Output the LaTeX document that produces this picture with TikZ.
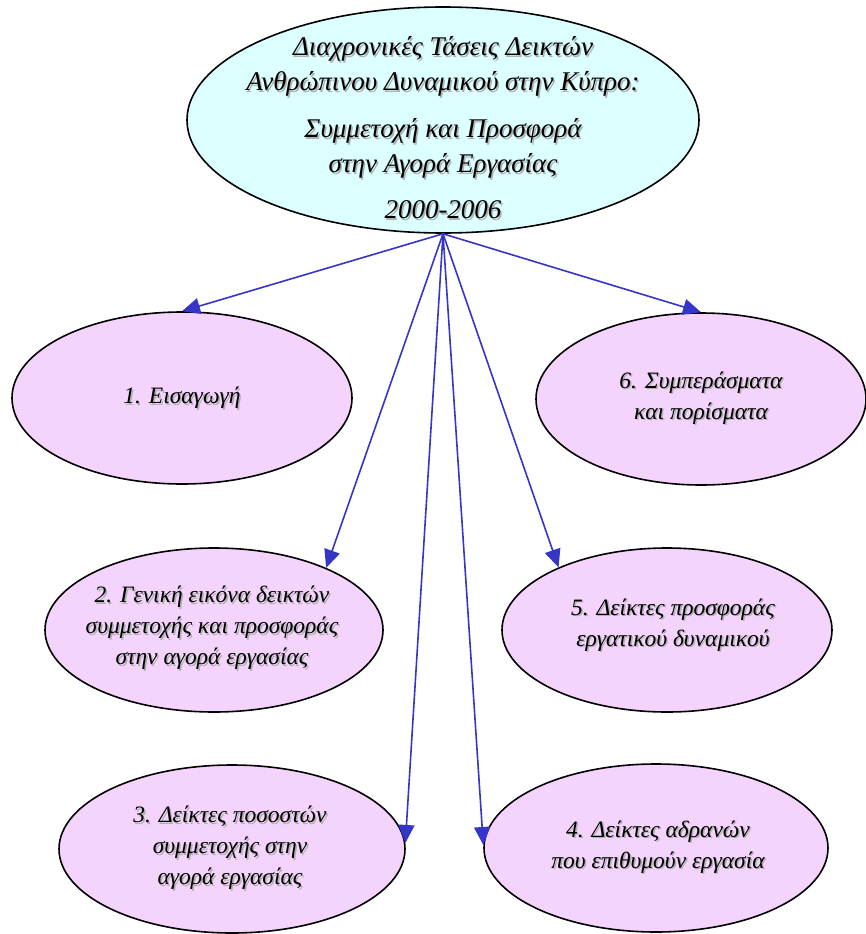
\documentclass[tikz,border=0pt]{standalone}
\usepackage{fontspec}
\setmainfont{Liberation Serif}
\usetikzlibrary{shapes.geometric,arrows.meta}
\definecolor{topfill}{HTML}{DCFFFF}
\definecolor{subfill}{HTML}{F4D4FC}
\definecolor{arrowblue}{HTML}{3535C8}
\definecolor{shadowgray}{HTML}{B0B0B0}
\newcommand\toptxt{Διαχρονικές Τάσεις Δεικτών\\Ανθρώπινου Δυναμικού στην Κύπρο:\\[12pt]Συμμετοχή και Προσφορά\\στην Αγορά Εργασίας\\[11pt]2000-2006}
\newcommand\txtone{1. Εισαγωγή}
\newcommand\txttwo{2. Γενική εικόνα δεικτών\\συμμετοχής και προσφοράς\\στην αγορά εργασίας}
\newcommand\txtthree{3. Δείκτες ποσοστών\\συμμετοχής στην\\αγορά εργασίας}
\newcommand\txtfour{4. Δείκτες αδρανών\\που επιθυμούν εργασία}
\newcommand\txtfive{5. Δείκτες προσφοράς\\εργατικού δυναμικού}
\newcommand\txtsix{6. Συμπεράσματα\\και πορίσματα}
\begin{document}
\begin{tikzpicture}[x=1pt,y=-1pt,
  topbox/.style={ellipse, draw=black, line width=1.6pt, fill=topfill, inner sep=0pt},
  subbox/.style={ellipse, draw=black, line width=1.6pt, fill=subfill, inner sep=0pt},
  toptext/.style={align=center, inner sep=0pt, font=\itshape\fontsize{27}{35}\selectfont},
  subtext/.style={align=center, inner sep=0pt, font=\itshape\fontsize{23.5}{31}\selectfont},
  shadowtext/.style={text=shadowgray},
  arr/.style={draw=arrowblue, line width=1.6pt, -{Triangle[length=18pt,width=16pt]}}]
\useasboundingbox (0,0) rectangle (865,934);
% ellipses
\node[topbox, minimum width=512pt, minimum height=226pt] (top) at (443,120) {};
\node[subbox, minimum width=340pt, minimum height=172pt] (e1) at (182,398) {};
\node[subbox, minimum width=330pt, minimum height=172pt] (e6) at (701,399) {};
\node[subbox, minimum width=338pt, minimum height=164pt] (e2) at (214,630) {};
\node[subbox, minimum width=330pt, minimum height=164pt] (e5) at (667,630) {};
\node[subbox, minimum width=346pt, minimum height=168pt] (e3) at (232,849) {};
\node[subbox, minimum width=344pt, minimum height=168pt] (e4) at (656,848) {};
% text shadows
\node[toptext, shadowtext] (topS) at (444.5,129.5) {\toptxt};
\node[subtext, shadowtext] (t1S) at (183.5,399.5) {\txtone};
\node[subtext, shadowtext] (t6S) at (702.5,399.5) {\txtsix};
\node[subtext, shadowtext] (t2S) at (213.5,629.5) {\txttwo};
\node[subtext, shadowtext] (t5S) at (674.5,626.5) {\txtfive};
\node[subtext, shadowtext] (t3S) at (231.5,849.5) {\txtthree};
\node[subtext, shadowtext] (t4S) at (659.5,848.5) {\txtfour};
% texts
\node[toptext] (topT) at (443,128) {\toptxt};
\node[subtext] (t1) at (182,398) {\txtone};
\node[subtext] (t6) at (701,398) {\txtsix};
\node[subtext] (t2) at (212,628) {\txttwo};
\node[subtext] (t5) at (673,625) {\txtfive};
\node[subtext] (t3) at (230,848) {\txtthree};
\node[subtext] (t4) at (658,847) {\txtfour};
% connectors
\draw[arr] (top.south) -- (e1.north);
\draw[arr] (top.south) -- (e6.north);
\draw[arr] (top.south) -- (e2.29);
\draw[arr] (top.south) -- (e5.150);
\draw[arr] (top.south) -- (e3.2);
\draw[arr] (top.south) -- (e4.179);
\end{tikzpicture}
\end{document}
